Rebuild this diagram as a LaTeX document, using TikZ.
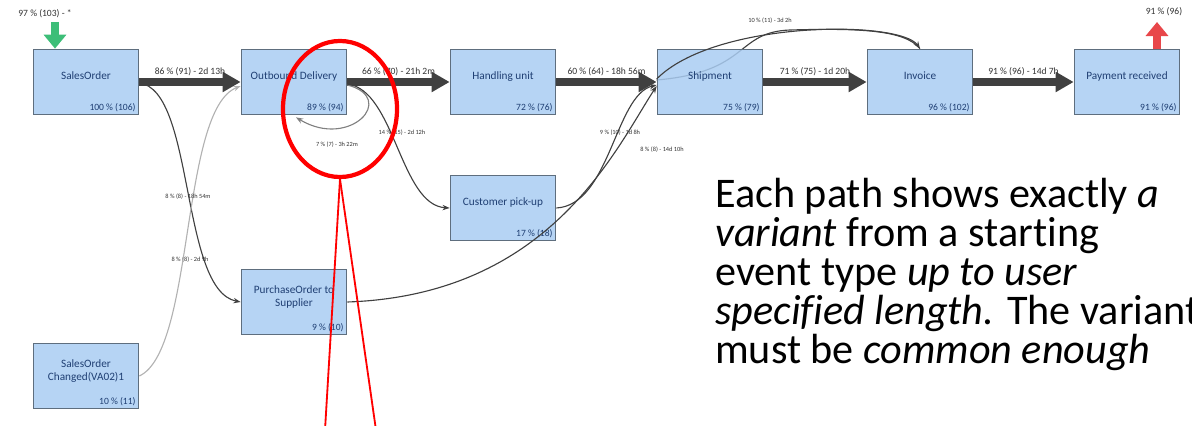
\documentclass[tikz,border=0pt]{standalone}
\usepackage{fontspec}
\setmainfont{Carlito}[Ligatures=NoCommon]
\usetikzlibrary{arrows.meta,positioning,calc,shapes.geometric,backgrounds}
\definecolor{boxfill}{HTML}{A9CCF2}
\definecolor{boxline}{HTML}{5E6E7E}
\definecolor{boxtext}{HTML}{1F3F73}
\definecolor{flow}{HTML}{404040}
\definecolor{startgreen}{HTML}{3DBE78}
\definecolor{endred}{HTML}{E8474A}

\begin{document}
\begin{tikzpicture}[x=0.025cm,y=-0.025cm,
  ev/.style={draw=boxline,line width=1.2pt,fill=boxfill,fill opacity=0.85,text opacity=1,minimum width=2.625cm,minimum height=1.625cm,inner sep=1pt,text depth=0.3cm,font=\fontsize{8}{9}\selectfont,text=boxtext,align=center},
  cnt/.style={font=\fontsize{6.8}{7}\selectfont,text=boxtext,anchor=south east,inner sep=2.5pt},
  main/.style={flow,line width=5pt,-{Triangle[length=4.5mm,width=4.8mm]}},
  thin/.style={flow,line width=0.8pt,-{Stealth[length=1.8mm]}},
  faint/.style={thin,draw=black!30},
  lbl/.style={font=\fontsize{6.8}{7}\selectfont,text=black!80,inner sep=1pt},
  sml/.style={font=\fontsize{4.5}{5}\selectfont,text=black!80,inner sep=1pt}]
\useasboundingbox (0,0) rectangle (1192,426);

% events
\node[ev] (so)  at (86,82)   {SalesOrder};
\node[ev] (od)  at (294,82)  {Outbound Delivery};
\node[ev] (hu)  at (503,82)  {Handling unit};
\node[ev] (sh)  at (710,82)  {Shipment};
\node[ev] (inv) at (920,82)  {Invoice};
\node[ev] (pay) at (1127,82) {Payment received};
\node[ev] (cp)  at (503,208) {Customer pick-up};
\node[ev] (po)  at (294,302) {PurchaseOrder to\\Supplier};
\node[ev] (soc) at (86,376)  {SalesOrder\\Changed(VA02)1};

\node[cnt] (so-c)  at (so.south east)  {100 \% (106)};
\node[cnt] (od-c)  at (od.south east)  {89 \% (94)};
\node[cnt] (hu-c)  at (hu.south east)  {72 \% (76)};
\node[cnt] (sh-c)  at (sh.south east)  {75 \% (79)};
\node[cnt] (inv-c) at (inv.south east) {96 \% (102)};
\node[cnt] (pay-c) at (pay.south east) {91 \% (96)};
\node[cnt] (cp-c)  at (cp.south east)  {17 \% (18)};
\node[cnt] (po-c)  at (po.south east)  {9 \% (10)};
\node[cnt] (soc-c) at (soc.south east) {10 \% (11)};

% start and end
\coordinate (entry) at (55,22);
\coordinate (exit) at (1157,22);
\draw[startgreen,line width=6pt,-{Triangle[length=3.5mm,width=5.5mm]}] (entry) -- (entry |- so.north);
\draw[endred,line width=6pt,-{Triangle[length=3.5mm,width=5.5mm]}] (exit |- pay.north) -- (exit);
\node[lbl] (entry-l) at (45,14) {97 \% (103) - *};
\node[lbl] (exit-l) at (1164,12) {91 \% (96)};

% main path
\draw[main] (so) -- node[lbl,above=1pt] (e1) {86 \% (91) - 2d 13h} (od);
\draw[main] (od) -- node[lbl,above=1pt] (e2) {66 \% (70) - 21h 2m} (hu);
\draw[main] (hu) -- node[lbl,above=1pt] (e3) {60 \% (64) - 18h 56m} (sh);
\draw[main] (sh) -- node[lbl,above=1pt] (e4) {71 \% (75) - 1d 20h} (inv);
\draw[main] (inv) -- node[lbl,above=1pt] (e5) {91 \% (96) - 14d 7h} (pay);

% side paths
\draw[thin,draw=black!50] ($(od.east)+(0,3)$) .. controls (398,98) and (350,150) .. ($(od.south)+(2,2)$);
\node[sml] (l-loop) at (337,145) {7 \% (7) - 3h 22m};
\draw[thin] ($(od.east)+(0,2)$) .. controls (395,90) and (400,205) .. (cp.west);
\node[sml] (l-cp) at (402,133) {14 \% (15) - 2d 12h};
\draw[thin] ($(so.east)+(0,1)$) .. controls (195,90) and (180,290) .. (po.west);
\node[sml] (l-po) at (190,260) {8 \% (8) - 2d 9h};
\draw[faint] (soc.east) .. controls (195,350) and (180,110) .. ($(od.west)+(0,4)$);
\node[sml] (l-soc) at (188,197) {8 \% (8) - 18h 54m};
\draw[thin] (cp.east) .. controls (610,205) and (615,95) .. ($(sh.west)+(0,3)$);
\node[sml] (l-cps) at (620,133) {9 \% (10) - 1d 8h};
\draw[thin] (po.east) .. controls (550,295) and (615,150) .. ($(sh.west)+(0,4)$);
\node[sml] (l-pos) at (662,150) {8 \% (8) - 14d 10h};
\draw[thin] ($(sh.west)+(0,-3)$) .. controls (715,20) and (900,20) .. (inv.north);
\begin{scope}[on background layer]
\draw[flow,line width=0.8pt] ($(sh.west)+(0,-2)$) .. controls (750,72) and (735,32) .. (790,30) .. controls (860,28) and (905,30) .. (inv.north);
\end{scope}
\node[sml] (l-si) at (770,21) {10 \% (11) - 3d 2h};

% highlight
\node[draw=red,line width=3pt,ellipse,minimum width=2.85cm,minimum height=3.4cm] (focus) at (340,109) {};
\coordinate (callA) at (325,430);
\coordinate (callB) at (376,430);
\draw[red,line width=1.3pt] (focus.south) -- (callA);
\draw[red,line width=1.3pt] (focus.south) -- (callB);

% note
\node[anchor=north west,align=left,inner sep=0pt,font=\fontsize{30}{27.8}\selectfont] (note) at (715,178)
  {Each path shows exactly \emph{a}\\
   \emph{variant} from a starting\\
   event type \emph{up to user}\\
   \emph{specified length.} The variant\\
   must be \emph{common enough}};
\end{tikzpicture}
\end{document}
